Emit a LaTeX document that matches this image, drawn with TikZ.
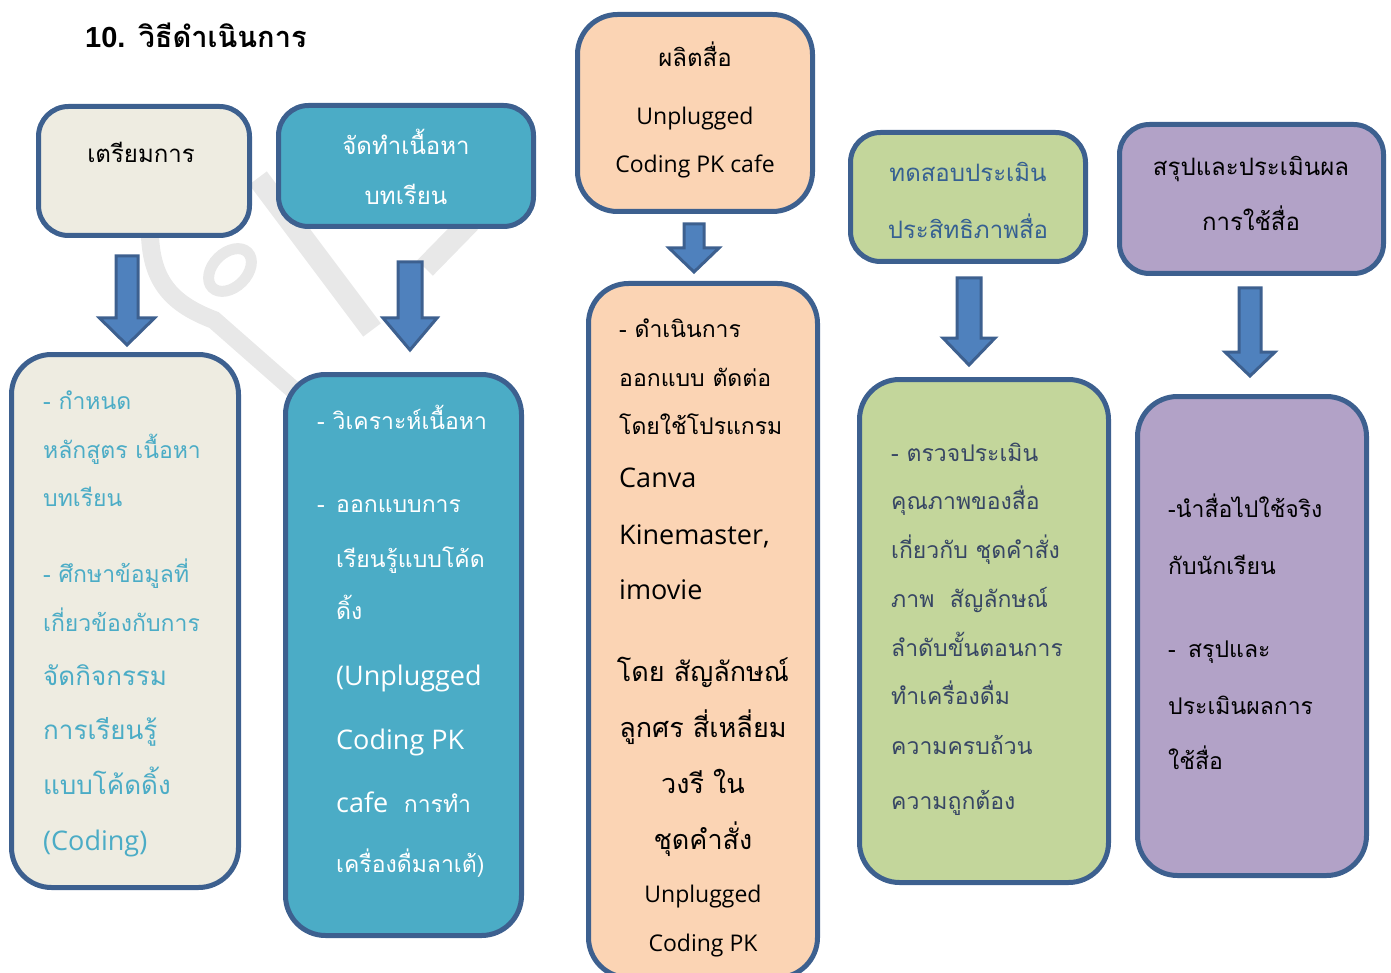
\documentclass[tikz,border=0pt]{standalone}
\usepackage{fontspec}
\setmainfont[Script=Thai]{Loma}
\newfontfamily\thai[Script=Thai]{Loma}
\newfontfamily\latn{Open Sans}
\newfontfamily\arl{Liberation Sans}
\definecolor{bord}{RGB}{61,96,143}
\definecolor{arfill}{RGB}{79,129,189}
\definecolor{cream}{RGB}{238,236,225}
\definecolor{teal}{RGB}{75,172,198}
\definecolor{peach}{RGB}{251,212,180}
\definecolor{lgreen}{RGB}{195,214,155}
\definecolor{lpurple}{RGB}{178,162,199}
\definecolor{dblue}{RGB}{54,96,146}
\definecolor{slate}{RGB}{55,70,100}
\definecolor{wm}{RGB}{232,232,232}
\tikzset{
  box/.style={draw=bord, line width=5pt, rounded corners=30pt, inner sep=0pt},
  bigbox/.style={box, rounded corners=40pt},
  blockarrow/.style={draw=bord, fill=arfill, line width=3pt, line join=miter},
  tl/.style={anchor=mid west, inner sep=0pt, yshift=-6.5pt},
  tc/.style={anchor=mid, inner sep=0pt, yshift=-6.5pt},
  wmline/.style={draw=wm, line cap=butt}
}
% name, cx, ytop, yneck, ytip, shaft half width, head half width
\newcommand\barrow[7]{%
  \coordinate (#1) at (#2,#3);
  \draw[blockarrow] ({#2-#6},#3) -- ({#2+#6},#3) -- ({#2+#6},#4) -- ({#2+#7},#4)
    -- (#2,#5) -- ({#2-#7},#4) -- ({#2-#6},#4) -- cycle;}
\begin{document}
\begin{tikzpicture}[x=1pt,y=-1pt]
\useasboundingbox (0,0) rectangle (1391,973);
% watermark
\draw[wmline, line width=22pt] (258,178) -- (372,330);
\draw[wmline, line width=18pt] (150,236) .. controls (152,282) and (172,304) .. (214,320) -- (305,400);
\draw[wmline, line width=11pt, rotate around={45:(230,270)}] (230,270) ellipse (25pt and 17pt);
\draw[wmline, line width=22pt] (470,222) -- (425,268);
% title
\node[anchor=base west, inner sep=0pt, font=\bfseries\fontsize{29}{34}\selectfont] (title) at (85,48) {{\arl 10.} วิธีดำเนินการ};
% top boxes
\node[box, fill=cream, minimum width=211pt, minimum height=129pt] (ta) at (144,171) {};
\node[box, fill=teal, minimum width=255pt, minimum height=121pt] (tb) at (406,166) {};
\node[bigbox, fill=peach, minimum width=235pt, minimum height=197pt] (tc) at (695,113) {};
\node[box, fill=lgreen, minimum width=235pt, minimum height=129pt] (td) at (968,197) {};
\node[box, fill=lpurple, minimum width=264pt, minimum height=149pt] (te) at (1251.5,199) {};
% bottom boxes
\node[bigbox, fill=cream, minimum width=227pt, minimum height=533pt] (ba) at (125,621) {};
\node[bigbox, fill=teal, minimum width=236pt, minimum height=561pt] (bb) at (403.5,655) {};
\node[bigbox, fill=peach, minimum width=229pt, minimum height=694pt] (bc) at (703,630.5) {};
\node[bigbox, fill=lgreen, minimum width=249pt, minimum height=503pt] (bd) at (984,631) {};
\node[bigbox, fill=lpurple, minimum width=229pt, minimum height=479pt] (be) at (1252,636) {};
% arrows
\barrow{arA}{127}{256}{318}{345}{11}{27.5}
\barrow{arB}{410}{262}{318}{350}{12}{27}
\barrow{arC}{694}{224}{248}{272}{10}{25}
\barrow{arD}{969}{278}{338}{365}{12}{26}
\barrow{arE}{1250}{288}{352}{376}{11}{25}
% top texts
\begin{scope}[font=\fontsize{24}{28}\selectfont]
\node[tc] (ta1) at (141,153) {เตรียมการ};
\node[tc, text=white] (tb1) at (406,145) {จัดทำเนื้อหา};
\node[tc, text=white] (tb2) at (406,195) {บทเรียน};
\node[tc] (tc1) at (695,57) {ผลิตสื่อ};
\node[tc, font=\latn\fontsize{23}{26}\selectfont] (tc2) at (695,115) {Unplugged};
\node[tc, font=\latn\fontsize{23}{26}\selectfont] (tc3) at (695,163) {Coding PK cafe};
\node[tc, text=dblue] (td1) at (968,172) {ทดสอบประเมิน};
\node[tc, text=dblue] (td2) at (968,229) {ประสิทธิภาพสื่อ};
\node[tc] (te1) at (1251,166) {สรุปและประเมินผล};
\node[tc] (te2) at (1251,221) {การใช้สื่อ};
\end{scope}
% bottom A
\begin{scope}[font=\fontsize{23}{28}\selectfont, text=teal]
\node[tl] (ba1) at (43,400) {- กำหนด};
\node[tl] (ba2) at (43,449) {หลักสูตร เนื้อหา};
\node[tl] (ba3) at (43,497) {บทเรียน};
\node[tl] (ba4) at (43,573) {- ศึกษาข้อมูลที่};
\node[tl] (ba5) at (43,622) {เกี่ยวข้องกับการ};
\node[tl, font=\fontsize{26}{30}\selectfont] (ba6) at (43,676) {จัดกิจกรรม};
\node[tl, font=\fontsize{26}{30}\selectfont] (ba7) at (43,730) {การเรียนรู้};
\node[tl, font=\fontsize{26}{30}\selectfont] (ba8) at (43,785) {แบบโค้ดดิ้ง};
\node[tl, font=\latn\fontsize{27}{30}\selectfont] (ba9) at (43,841) {(Coding)};
\end{scope}
% bottom B
\begin{scope}[font=\fontsize{23}{28}\selectfont, text=white]
\node[tl] (bb1) at (317,420) {- วิเคราะห์เนื้อหา};
\node[tl] (bb2d) at (317,503) {-};
\node[tl] (bb2) at (336,503) {ออกแบบการ};
\node[tl] (bb3) at (336,558) {เรียนรู้แบบโค้ด};
\node[tl] (bb4) at (336,610) {ดิ้ง};
\node[tl, font=\latn\fontsize{27}{30}\selectfont] (bb5) at (336,676) {(Unplugged};
\node[tl, font=\latn\fontsize{27}{30}\selectfont] (bb6) at (336,740) {Coding PK};
\node[tl] (bb7) at (336,803) {{\latn\fontsize{27}{30}\selectfont cafe}\ \ การทำ};
\node[tl] (bb8) at (336,863) {เครื่องดื่มลาเต้)};
\end{scope}
% bottom C
\begin{scope}[font=\fontsize{23}{28}\selectfont]
\node[tl] (bc1) at (619,328) {- ดำเนินการ};
\node[tl] (bc2) at (619,377) {ออกแบบ ตัดต่อ};
\node[tl] (bc3) at (619,425) {โดยใช้โปรแกรม};
\node[tl, font=\latn\fontsize{27}{30}\selectfont] (bc4) at (619,478) {Canva};
\node[tl, font=\latn\fontsize{27}{30}\selectfont] (bc5) at (619,535) {Kinemaster,};
\node[tl, font=\latn\fontsize{27}{30}\selectfont] (bc6) at (619,590) {imovie};
\node[tc, font=\fontsize{27}{32}\selectfont] (bc7) at (703,672) {โดย สัญลักษณ์};
\node[tc, font=\fontsize{27}{32}\selectfont] (bc8) at (703,728) {ลูกศร สี่เหลี่ยม};
\node[tc, font=\fontsize{27}{32}\selectfont] (bc9) at (703,784) {วงรี ใน};
\node[tc, font=\fontsize{27}{32}\selectfont] (bc10) at (703,840) {ชุดคำสั่ง};
\node[tc, font=\latn\fontsize{23}{26}\selectfont] (bc11) at (703,893) {Unplugged};
\node[tc, font=\latn\fontsize{23}{26}\selectfont] (bc12) at (703,942) {Coding PK};
\end{scope}
% bottom D
\begin{scope}[font=\fontsize{23}{28}\selectfont, text=slate]
\node[tl] (bd1) at (891,452) {- ตรวจประเมิน};
\node[tl] (bd2) at (891,500) {คุณภาพของสื่อ};
\node[tl] (bd3) at (891,549) {เกี่ยวกับ ชุดคำสั่ง};
\node[tl] (bd4) at (891,598) {ภาพ\ \ สัญลักษณ์};
\node[tl] (bd5) at (891,647) {ลำดับขั้นตอนการ};
\node[tl] (bd6) at (891,695) {ทำเครื่องดื่ม};
\node[tl] (bd7) at (891,745) {ความครบถ้วน};
\node[tl] (bd8) at (891,800) {ความถูกต้อง};
\end{scope}
% bottom E
\begin{scope}[font=\fontsize{23}{28}\selectfont]
\node[tl] (be1) at (1168,508) {-นำสื่อไปใช้จริง};
\node[tl] (be2) at (1168,565) {กับนักเรียน};
\node[tl] (be3d) at (1168,648) {-};
\node[tl] (be3) at (1188,648) {สรุปและ};
\node[tl] (be4) at (1168,705) {ประเมินผลการ};
\node[tl] (be5) at (1168,760) {ใช้สื่อ};
\end{scope}
\end{tikzpicture}
\end{document}
